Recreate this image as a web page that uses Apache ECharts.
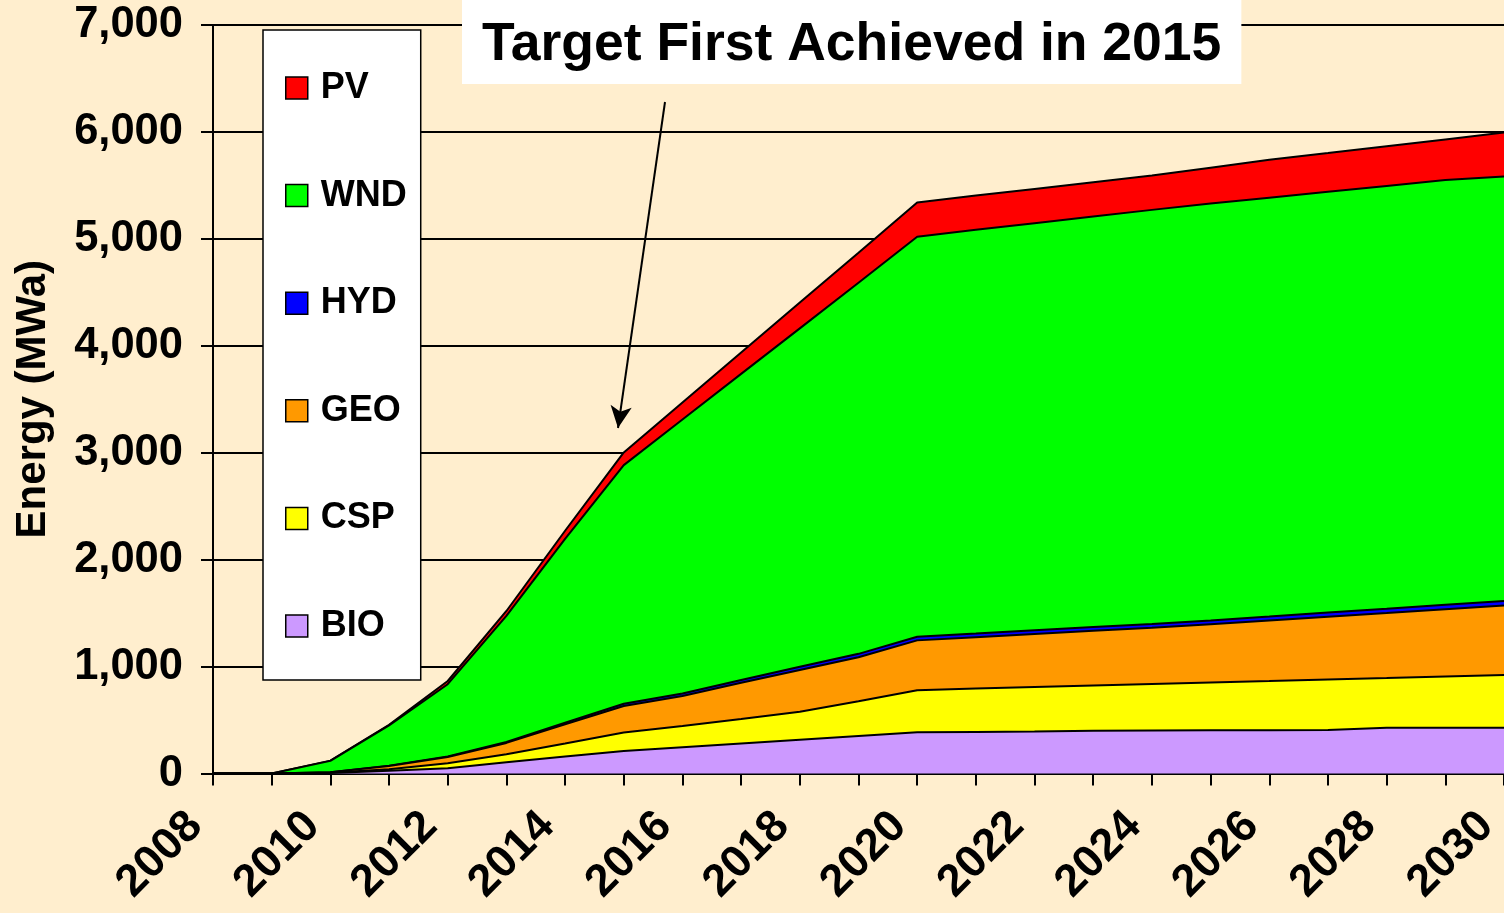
<!DOCTYPE html>
<html>
<head>
<meta charset="utf-8">
<title>Energy (MWa)</title>
<script src="https://cdn.jsdelivr.net/npm/echarts@6/dist/echarts.min.js"></script>
<style>
  html, body { margin: 0; padding: 0; background: #FFEECE; }
  #chart { width: 1504px; height: 913px; }
</style>
</head>
<body>
<div id="chart"></div>
<script>
// years on the category axis
var years = ['2008', '2009', '2010', '2011', '2012', '2013', '2014', '2015', '2016', '2017', '2018', '2019',
  '2020', '2021', '2022', '2023', '2024', '2025', '2026', '2027', '2028', '2029', '2030']

// MWa per resource, stacked bottom to top
var bio = [0, 0, 5, 25, 50, 105, 160, 211, 245, 280, 315, 350, 385, 388, 392, 400, 403, 405, 405, 407, 428, 428, 428]
var csp = [0, 0, 3, 15, 45, 75, 120, 172, 199, 230, 263, 325, 393, 407, 417, 423, 433, 445, 459, 472, 465, 480, 493]
var geo = [0, 0, 4, 30, 60, 106, 180, 249, 280, 338, 390, 412, 467, 480, 496, 512, 526, 545, 566, 586, 607, 629, 649]
var hyd = [0, 0, 0, 2, 5, 10, 15, 20, 24, 27, 30, 32, 34, 34, 35, 35, 36, 37, 38, 40, 41, 42, 44]
var wnd = [0, 0, 106, 378, 675, 1179, 1720, 2232, 2562, 2862, 3165, 3471, 3741, 3776, 3807, 3839, 3873, 3898, 3917, 3935, 3954, 3971, 3969]
var pv = [0, 0, 2, 5, 30, 45, 75, 119, 160, 200, 241, 281, 320, 320, 320, 321, 321, 335, 354, 362, 371, 380, 412]

var legendOrder = ['PV', 'WND', 'HYD', 'GEO', 'CSP', 'BIO']

var font = "'Liberation Sans', Arial, sans-serif"
var chart = echarts.init(document.getElementById('chart'))

function areaSeries(name, data, color, z) {
  return {
    name: name,
    type: 'line',
    stack: 'total',
    data: data,
    z: z,
    symbol: 'none',
    showSymbol: false,
    color: color,
    itemStyle: { color: color },
    lineStyle: { color: '#000', width: 2 },
    areaStyle: { color: color, opacity: 1 }
  }
}

var series = [
  areaSeries('BIO', bio, '#CC99FF', 8),
  areaSeries('CSP', csp, '#FFFF00', 7),
  areaSeries('GEO', geo, '#FF9900', 6),
  areaSeries('HYD', hyd, '#0000FF', 5),
  areaSeries('WND', wnd, '#00FF00', 4),
  areaSeries('PV', pv, '#FF0000', 3)
]

// arrow pointing at the 2015 point
series[5].markLine = {
  silent: true,
  animation: false,
  symbol: ['none', 'arrow'],
  symbolSize: [16, 22],
  label: { show: false },
  lineStyle: { color: '#000', width: 2, type: 'solid' },
  data: [[{ x: 665, y: 102 }, { x: 618, y: 428 }]]
}

var option = {
  backgroundColor: '#FFEECE',
  animation: false,
  title: {
    text: 'Target First Achieved in 2015',
    left: 462,
    top: 0,
    backgroundColor: '#fff',
    padding: [18, 20, 12, 20],
    textStyle: { fontFamily: font, fontSize: 53.5, fontWeight: 'bold', color: '#000' }
  },
  legend: {
    data: legendOrder,
    orient: 'vertical',
    left: 263,
    top: 30,
    icon: 'rect',
    itemWidth: 22,
    itemHeight: 22,
    itemGap: 71.6,
    padding: [40, 14, 36, 22],
    backgroundColor: '#fff',
    borderColor: '#000',
    borderWidth: 1.5,
    itemStyle: { borderColor: '#000', borderWidth: 1.5 },
    textStyle: { fontFamily: font, fontSize: 36, fontWeight: 'bold', color: '#000', lineHeight: 36, padding: [0, 0, 0, 8] }
  },
  grid: {
    left: 213,
    right: 0,
    top: 25,
    bottom: 139.5,
    outerBoundsMode: 'none'
  },
  xAxis: {
    type: 'category',
    data: years,
    boundaryGap: false,
    axisLine: { lineStyle: { color: '#000', width: 2 } },
    axisTick: { show: true, interval: 0, length: 12, lineStyle: { color: '#000', width: 2 } },
    axisLabel: {
      interval: 1,
      rotate: 45,
      margin: 28,
      padding: [0, 25, 0, 0],
      color: '#000',
      fontFamily: font,
      fontSize: 45,
      fontWeight: 'bold'
    },
    splitLine: { show: false }
  },
  yAxis: {
    type: 'value',
    min: 0,
    max: 7000,
    interval: 1000,
    name: 'Energy (MWa)',
    nameLocation: 'middle',
    nameRotate: 90,
    nameGap: 159,
    nameTextStyle: { fontFamily: font, fontSize: 42, fontWeight: 'bold', color: '#000' },
    axisLine: { show: true, lineStyle: { color: '#000', width: 2 } },
    axisTick: { show: true, length: 12, lineStyle: { color: '#000', width: 2 } },
    axisLabel: {
      margin: 30,
      color: '#000',
      fontFamily: font,
      fontSize: 43.5,
      fontWeight: 'bold',
      formatter: function (v) { return v.toLocaleString('en-US') }
    },
    splitLine: { show: true, lineStyle: { color: '#000', width: 2 } }
  },
  series: series
}
chart.setOption(option)
</script>
</body>
</html>
